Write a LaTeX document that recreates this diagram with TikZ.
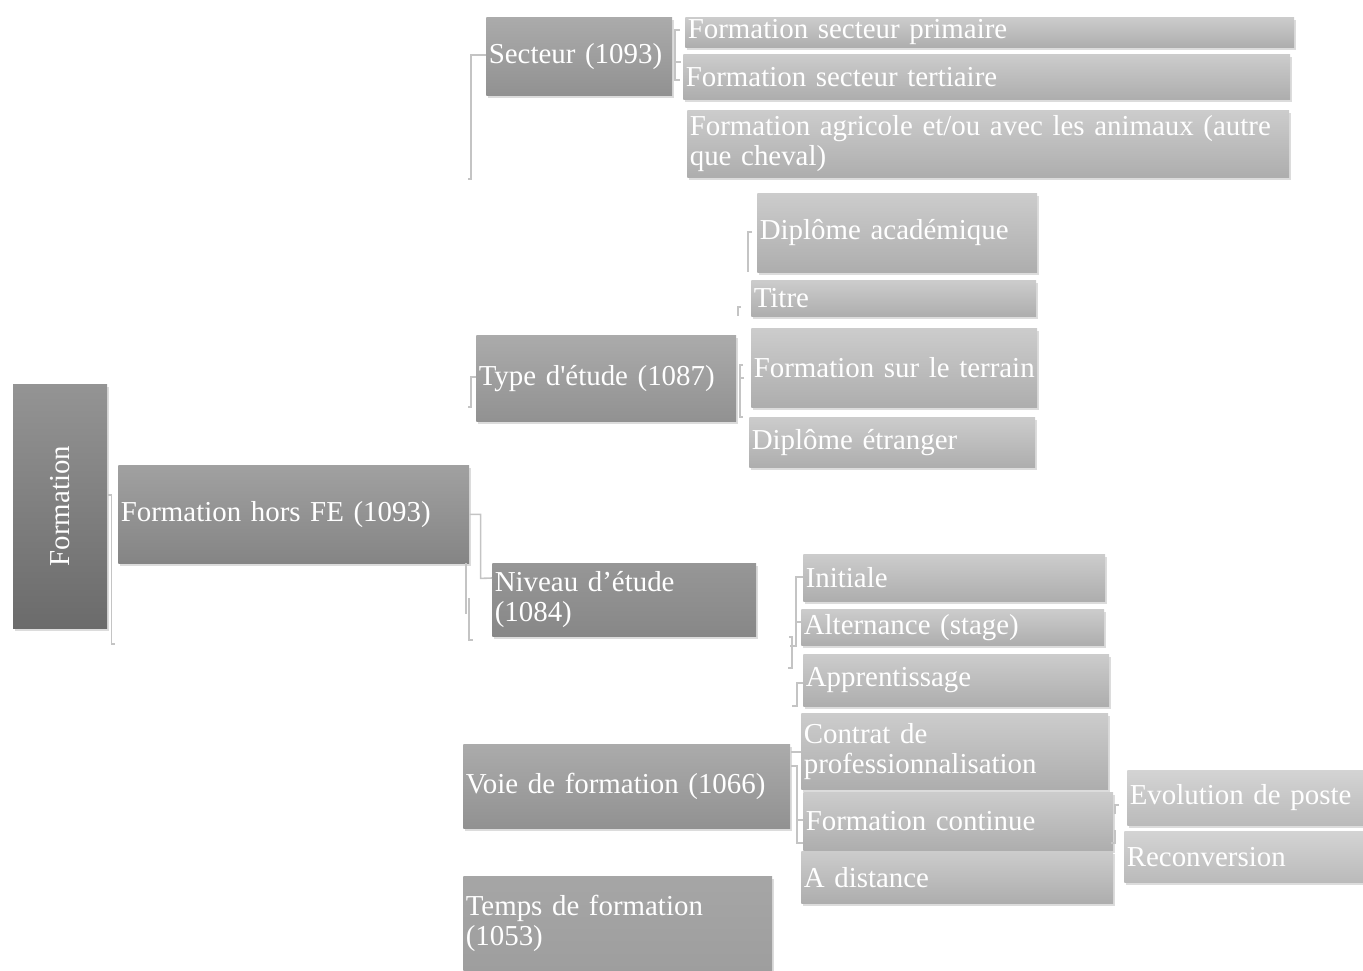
\documentclass[tikz,border=0pt]{standalone}
\usepackage{fontspec}
\setmainfont{Liberation Serif}
\usetikzlibrary{shadows}
\definecolor{connc}{HTML}{C4C4C4}
\hyphenpenalty=10000
\exhyphenpenalty=10000
\begin{document}
\begin{tikzpicture}[x=0.5pt,y=-0.5pt,
  bx/.style={anchor=north west, align=left, inner xsep=1.2pt, inner ysep=0pt,
    text=white, font=\fontsize{14.45}{15}\selectfont,
    drop shadow={shadow xshift=1pt, shadow yshift=-1.5pt, opacity=0.28}},
  lroot/.style={top color=black!42, bottom color=black!58, text=white,
    font=\fontsize{14.45}{15}\selectfont, inner sep=0pt, rotate=90,
    drop shadow={shadow xshift=1pt, shadow yshift=-1.5pt, opacity=0.28}},
  lhfe/.style={bx, top color=black!37, bottom color=black!48},
  lmid/.style={bx, top color=black!33, bottom color=black!43},
  lniv/.style={bx, top color=black!41, bottom color=black!47},
  ltmp/.style={bx, top color=black!35, bottom color=black!38},
  lleaf/.style={bx, top color=black!20, bottom color=black!32},
  lsub/.style={bx, top color=black!17, bottom color=black!27},
  conn/.style={draw=connc, line width=0.8pt}]
\useasboundingbox (0,0) rectangle (1363,970);
% root
\node[lroot, minimum width=122pt, minimum height=47pt] (root) at (60,506) {Formation};
\node[lhfe, text width=173pt, minimum height=49pt] (hfe) at (118,465) {Formation hors FE (1093)};
% level 2
\node[lmid, text width=90.5pt, minimum height=39pt] (sect) at (486,17) {Secteur (1093)};
\node[lmid, text width=127.5pt, minimum height=43pt] (type) at (476,335) {Type d\textquotesingle étude (1087)};
\node[lniv, text width=129.5pt, minimum height=36.5pt] (niv) at (492,563) {Niveau d’étude\\(1084)};
\node[lmid, text width=161pt, minimum height=42pt] (voie) at (463,744) {Voie de formation (1066)};
\node[ltmp, text width=152pt, minimum height=47pt] (temps) at (463,876) {Temps de formation\\(1053)};
% secteur leaves
\node[lleaf, text width=302pt, minimum height=15pt] (p1) at (685,17) {Formation secteur primaire};
\node[lleaf, text width=301pt, minimum height=22.5pt] (p2) at (683,54) {Formation secteur tertiaire};
\node[lleaf, text width=298.5pt, minimum height=33.5pt] (p3) at (687,110) {Formation agricole et/ou avec les animaux (autre\\que cheval)};
% type leaves
\node[lleaf, text width=137.5pt, minimum height=39.5pt] (dip) at (757,193) {Diplôme académique};
\node[lleaf, text width=140pt, minimum height=18pt] (titre) at (751,280) {Titre};
\node[lleaf, text width=140.5pt, minimum height=39.5pt] (terr) at (751,328) {Formation sur le terrain};
\node[lleaf, text width=140.5pt, minimum height=25pt] (etr) at (749,417) {Diplôme étranger};
% niveau / voie leaves
\node[lleaf, text width=148.5pt, minimum height=23.5pt] (init) at (803,554) {Initiale};
\node[lleaf, text width=149pt, minimum height=18pt] (alt) at (801,609) {Alternance (stage)};
\node[lleaf, text width=150.5pt, minimum height=26pt] (appr) at (803,654) {Apprentissage};
\node[lleaf, text width=151pt, minimum height=38pt] (ctr) at (801,713) {Contrat de\\professionnalisation};
\node[lleaf, text width=152.5pt, minimum height=29pt] (fcont) at (803,792) {Formation continue};
\node[lleaf, text width=153.5pt, minimum height=26pt] (dist) at (801,851) {A distance};
% level 5
\node[lsub, text width=115.5pt, minimum height=27.5pt] (evo) at (1127,770) {Evolution de poste};
\node[lsub, text width=117pt, minimum height=25.5pt] (recon) at (1124,831) {Reconversion};
% connectors
\draw[conn] (root.south) ++(1,-11) -- ++(3,0) -- ++(0,149) -- ++(4,0);
\draw[conn] (hfe.east) -- ++(11,0) -- ++(0,64) -- (niv.west |- 0,578);
\draw[conn] (466,563) -- (466,614);
\draw[conn] (469,598) -- (469,640) -- (473,640);
\draw[conn] (type.west |- 0,377) -- (471,377) -- (471,407) -- (468,407);
\draw[conn] (sect.west |- 0,55) -- (471,55) -- (471,179) -- (468,179);
\draw[conn] (680,30) -- (675,30) -- (675,80) -- (680,80);
\draw[conn] (675,62) -- (681,62);
\draw[conn] (752,232) -- (748,232) -- (748,272);
\draw[conn] (741,307) -- (738,307) -- (738,316);
\draw[conn] (743,365) -- (740,365) -- (740,417) -- (743,417);
\draw[conn] (740,378) -- (744,378);
\draw[conn] (init.west |- 0,577) -- (796,577) -- (796,646) -- (790,646);
\draw[conn] (796,622) -- (alt.west |- 0,622);
\draw[conn] (789,637) -- (792,637) -- (792,668) -- (788,668);
\draw[conn] (appr.west |- 0,683) -- (797,683) -- (797,706) -- (792,706);
\draw[conn] (voie.east |- 0,752) -- (ctr.west |- 0,752);
\draw[conn] (voie.east |- 0,766) -- (797,766) -- (797,843) -- (fcont.west |- 0,843);
\draw[conn] (797,820) -- (fcont.west |- 0,820);
\draw[conn] (1119,805) -- (1115,805) -- (1115,814);
\draw[conn] (1115,830) -- (1115,843) -- (1111,843);
\end{tikzpicture}
\end{document}
